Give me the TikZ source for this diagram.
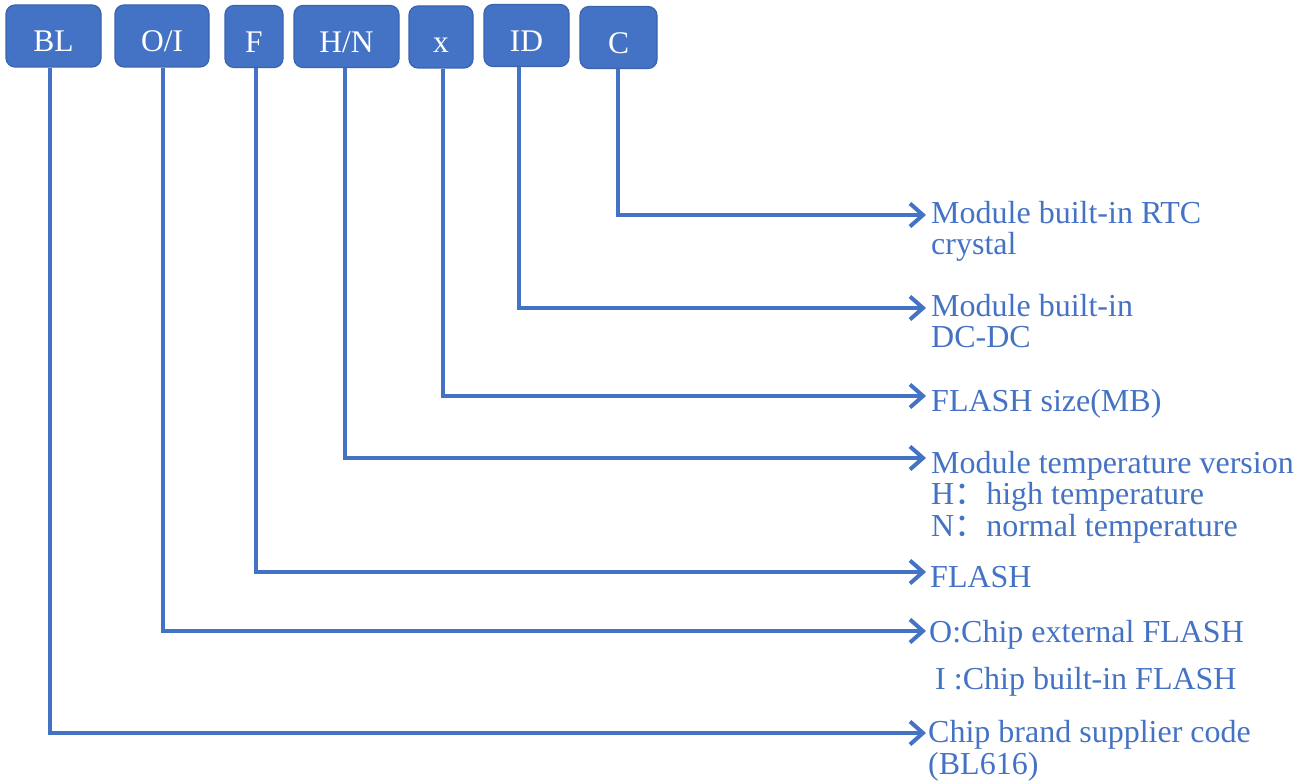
\documentclass[tikz,border=0pt]{standalone}
\usepackage{fontspec}
\setmainfont{Liberation Serif}
\newfontfamily\cjkfont{Noto Sans CJK SC}
\usetikzlibrary{arrows.meta}
\definecolor{cblue}{HTML}{4472C4}
\definecolor{cedge}{HTML}{3A64AE}
\newcommand{\fwcolon}{{\cjkfont ：}}
\tikzset{
  codebox/.style={draw=cedge, line width=1.2pt, fill=cblue, rounded corners=9pt, text=white, font=\fontsize{31.5}{31.5}\selectfont, inner sep=0pt, text height=32pt, text depth=0pt},
  conn/.style={draw=cblue, line width=3.4pt, -{Straight Barb[length=13pt,width=23pt,line width=4pt]}},
  desc/.style={anchor=base west, text=cblue, font=\fontsize{32}{31.5}\selectfont, inner sep=0pt, align=left},
}
\begin{document}
\begin{tikzpicture}[x=1pt,y=-1pt]
\useasboundingbox (0,0) rectangle (1311,783);
% boxes
\node[codebox, minimum width=95pt, minimum height=62pt] (bl) at (53.5,36) {BL};
\node[codebox, minimum width=94pt, minimum height=62pt] (oi) at (162,36) {O/I};
\node[codebox, minimum width=58pt, minimum height=62pt] (f) at (254,36.5) {F};
\node[codebox, minimum width=105pt, minimum height=62pt] (hn) at (346.5,36.5) {H/N};
\node[codebox, minimum width=64pt, minimum height=62pt] (x) at (441,37) {x};
\node[codebox, minimum width=85pt, minimum height=62pt] (id) at (526.5,35.5) {ID};
\node[codebox, minimum width=77pt, minimum height=62pt] (c) at (618.5,37.5) {C};
% descriptions
\node[desc] (tc) at (931,255) {Module built-in RTC\\crystal};
\node[desc] (tid) at (931,348) {Module built-in\\DC-DC};
\node[desc] (tx) at (931,411) {FLASH size(MB)};
\node[desc] (thn) at (931,536) {Module temperature version\\H\fwcolon high temperature\\N\fwcolon normal temperature};
\node[desc] (tf) at (930,587) {FLASH};
\node[desc] (toi) at (929,642) {O:Chip external FLASH};
\node[desc] (toi2) at (935,689) {I :Chip built-in FLASH};
\node[desc] (tbl) at (928,774) {Chip brand supplier code\\(BL616)};
% arrow end coordinates
\coordinate (ec) at (926,215);
\coordinate (eid) at (926,308);
\coordinate (ex) at (926,396);
\coordinate (ehn) at (926,458);
\coordinate (ef) at (926,572);
\coordinate (eoi) at (926,631);
\coordinate (ebl) at (926,733);
% connectors
\draw[conn] (c.south -| 618,0) |- (ec);
\draw[conn] (id.south -| 519,0) |- (eid);
\draw[conn] (x.south -| 443,0) |- (ex);
\draw[conn] (hn.south -| 345,0) |- (ehn);
\draw[conn] (f.south -| 256,0) |- (ef);
\draw[conn] (oi.south -| 163,0) |- (eoi);
\draw[conn] (bl.south -| 50,0) |- (ebl);
\end{tikzpicture}
\end{document}
